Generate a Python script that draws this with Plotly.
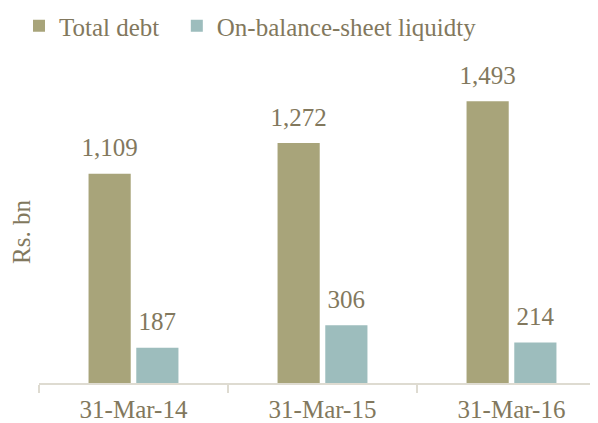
import plotly.graph_objects as go

categories = ["31-Mar-14", "31-Mar-15", "31-Mar-16"]
total_debt = [1109, 1272, 1493]
liquidity = [187, 306, 214]
series_names = ["Total debt\u00a0\u00a0", "On-balance-sheet liquidty"]

FONT = "Liberation Serif"
FS = 25
TXT = "#82785d"
AX = "#dedbd1"
COLORS = ["#a8a47a", "#9dbdbd"]

fig = go.Figure()
for name, vals, col, grp in [(series_names[0], total_debt, COLORS[0], "a"),
                             (series_names[1], liquidity, COLORS[1], "b")]:
    fig.add_trace(go.Bar(
        x=categories, y=vals, name=name, offsetgroup=grp,
        marker=dict(color=col, line=dict(width=0)),
    ))
    fig.add_trace(go.Scatter(
        x=categories, y=vals, offsetgroup=grp, mode="markers+text",
        marker=dict(size=16, opacity=0), showlegend=False, hoverinfo="skip",
        text=[f"{v:,}" for v in vals], textposition="top center",
        textfont=dict(family=FONT, size=FS, color=TXT), cliponaxis=False,
    ))

fig.update_layout(
    width=598, height=423,
    margin=dict(l=31, r=0, t=73, b=48),
    paper_bgcolor="white", plot_bgcolor="white",
    font=dict(family=FONT, size=FS, color=TXT),
    barmode="group", bargap=0.495, bargroupgap=0.116,
    scattermode="group",
    showlegend=True,
    legend=dict(
        orientation="h", xref="container", yref="container",
        x=11 / 598, y=1 - 18 / 423, xanchor="left", yanchor="middle",
        font=dict(family=FONT, size=FS, color=TXT),
        bgcolor="rgba(0,0,0,0)", traceorder="normal",
    ),
    xaxis=dict(
        automargin=False,
        showline=True, linecolor=AX, linewidth=1.5,
        ticks="outside", tickson="boundaries", ticklen=8, tickcolor=AX, tickwidth=1.5,
        ticklabelstandoff=3,
        tickfont=dict(family=FONT, size=FS, color=TXT),
        showgrid=False,
    ),
    yaxis=dict(
        automargin=False,
        range=[0, 1600], showticklabels=False, showgrid=False, zeroline=False,
        showline=False,
        title=dict(text="Rs. bn", font=dict(family=FONT, size=FS, color=TXT), standoff=0),
    ),
)

fig.write_html("out.html")
